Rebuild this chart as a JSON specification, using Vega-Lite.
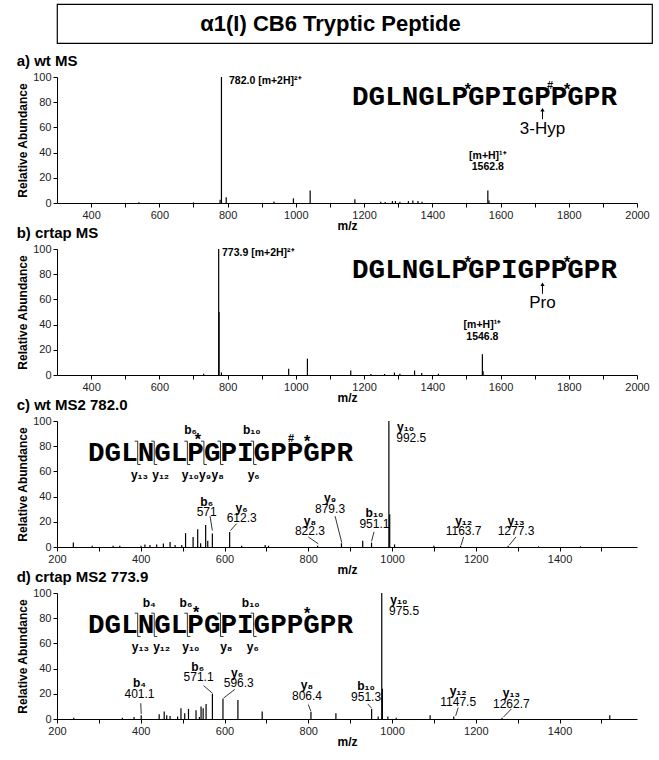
{
"$schema": "https://vega.github.io/schema/vega-lite/v6.json",
"padding": {"left": 16, "top": 3, "right": 0, "bottom": 0},
"datasets": {
"pk": [
{"p":"a","mz":540,"ab":0.6},{"p":"a","mz":700,"ab":0.5},{"p":"a","mz":778,"ab":2.5},{"p":"a","mz":782,"ab":100},{"p":"a","mz":796,"ab":4.5},{"p":"a","mz":936,"ab":1.2},{"p":"a","mz":993,"ab":3.7},{"p":"a","mz":1042,"ab":10},{"p":"a","mz":1173,"ab":3},{"p":"a","mz":1249,"ab":1},{"p":"a","mz":1262,"ab":0.8},{"p":"a","mz":1283,"ab":1.5},{"p":"a","mz":1292,"ab":1.5},{"p":"a","mz":1305,"ab":1},{"p":"a","mz":1330,"ab":1.5},{"p":"a","mz":1343,"ab":2},{"p":"a","mz":1358,"ab":1.5},{"p":"a","mz":1370,"ab":1},{"p":"a","mz":1562.8,"ab":10},{"p":"a","mz":1566,"ab":2},
{"p":"b","mz":730,"ab":1},{"p":"b","mz":773.9,"ab":100},{"p":"b","mz":775,"ab":50},{"p":"b","mz":782,"ab":2},{"p":"b","mz":979,"ab":5},{"p":"b","mz":1034,"ab":13},{"p":"b","mz":1161,"ab":3.5},{"p":"b","mz":1220,"ab":0.8},{"p":"b","mz":1260,"ab":0.8},{"p":"b","mz":1289,"ab":2},{"p":"b","mz":1305,"ab":1},{"p":"b","mz":1348,"ab":3.5},{"p":"b","mz":1369,"ab":1.5},{"p":"b","mz":1418,"ab":1},{"p":"b","mz":1546.8,"ab":16.5},{"p":"b","mz":1549,"ab":3},
{"p":"c","mz":239,"ab":3.5},{"p":"c","mz":284,"ab":1},{"p":"c","mz":334,"ab":1},{"p":"c","mz":350,"ab":1},{"p":"c","mz":400.6,"ab":1},{"p":"c","mz":410,"ab":2},{"p":"c","mz":422,"ab":1.5},{"p":"c","mz":438,"ab":2},{"p":"c","mz":454,"ab":2.7},{"p":"c","mz":470,"ab":4},{"p":"c","mz":482,"ab":1.5},{"p":"c","mz":498,"ab":1.5},{"p":"c","mz":507,"ab":11},{"p":"c","mz":525,"ab":8},{"p":"c","mz":536,"ab":14},{"p":"c","mz":543,"ab":3},{"p":"c","mz":555,"ab":17.4},{"p":"c","mz":560,"ab":5},{"p":"c","mz":571,"ab":10.7},{"p":"c","mz":612.3,"ab":12},{"p":"c","mz":641,"ab":1},{"p":"c","mz":697,"ab":1.5},{"p":"c","mz":705,"ab":1},{"p":"c","mz":822.3,"ab":1},{"p":"c","mz":879.3,"ab":3},{"p":"c","mz":930,"ab":5},{"p":"c","mz":951.1,"ab":3.5},{"p":"c","mz":992.5,"ab":100},{"p":"c","mz":994.5,"ab":26},{"p":"c","mz":1006,"ab":2},{"p":"c","mz":1100,"ab":1},{"p":"c","mz":1163.7,"ab":1},{"p":"c","mz":1277.3,"ab":1},{"p":"c","mz":1350,"ab":0.5},{"p":"c","mz":1450,"ab":0.5},
{"p":"d","mz":240,"ab":1},{"p":"d","mz":356,"ab":1},{"p":"d","mz":384,"ab":1.5},{"p":"d","mz":401.1,"ab":3},{"p":"d","mz":444,"ab":3.7},{"p":"d","mz":456,"ab":6},{"p":"d","mz":462,"ab":3},{"p":"d","mz":470,"ab":2.4},{"p":"d","mz":488,"ab":2},{"p":"d","mz":496,"ab":8.5},{"p":"d","mz":505,"ab":4.5},{"p":"d","mz":514,"ab":8},{"p":"d","mz":532,"ab":7},{"p":"d","mz":540,"ab":1.5},{"p":"d","mz":544,"ab":10},{"p":"d","mz":549,"ab":8.5},{"p":"d","mz":556,"ab":12},{"p":"d","mz":571.1,"ab":20},{"p":"d","mz":596.3,"ab":16},{"p":"d","mz":632,"ab":15},{"p":"d","mz":690,"ab":6},{"p":"d","mz":806.4,"ab":5.5},{"p":"d","mz":866,"ab":4.5},{"p":"d","mz":951.3,"ab":8},{"p":"d","mz":967,"ab":2},{"p":"d","mz":975.5,"ab":100},{"p":"d","mz":977,"ab":24},{"p":"d","mz":990,"ab":2},{"p":"d","mz":1010,"ab":1},{"p":"d","mz":1091,"ab":3},{"p":"d","mz":1147.5,"ab":2},{"p":"d","mz":1262.7,"ab":1},{"p":"d","mz":1520,"ab":3}
],
"ln": [
{"p":"a","mz":1723,"ab":66.5,"mz2":1723,"ab2":74},
{"p":"b","mz":1723,"ab":64.5,"mz2":1723,"ab2":72},
{"p":"c","mz":565.5,"ab":24.5,"mz2":571,"ab2":13},
{"p":"c","mz":629,"ab":18.6,"mz2":614,"ab2":13},
{"p":"c","mz":800,"ab":8,"mz2":824,"ab2":2.5},
{"p":"c","mz":864,"ab":24.5,"mz2":880,"ab2":3.5},
{"p":"c","mz":957,"ab":12,"mz2":951.1,"ab2":4.5},
{"p":"c","mz":1171,"ab":8,"mz2":1165,"ab2":1.5},
{"p":"c","mz":1296,"ab":8,"mz2":1280,"ab2":1.5},
{"p":"c","mz":392.7,"ab":65.5,"mz2":392.7,"ab2":84},{"p":"c","mz":385.5,"ab":84,"mz2":392.7,"ab2":84},{"p":"c","mz":392.7,"ab":65.5,"mz2":399.9,"ab2":65.5},
{"p":"c","mz":432.2,"ab":65.5,"mz2":432.2,"ab2":84},{"p":"c","mz":425,"ab":84,"mz2":432.2,"ab2":84},{"p":"c","mz":432.2,"ab":65.5,"mz2":439.4,"ab2":65.5},
{"p":"c","mz":511.3,"ab":65.5,"mz2":511.3,"ab2":84},{"p":"c","mz":504.1,"ab":84,"mz2":511.3,"ab2":84},{"p":"c","mz":511.3,"ab":65.5,"mz2":518.5,"ab2":65.5},
{"p":"c","mz":550.8,"ab":65.5,"mz2":550.8,"ab2":84},{"p":"c","mz":543.6,"ab":84,"mz2":550.8,"ab2":84},{"p":"c","mz":550.8,"ab":65.5,"mz2":558,"ab2":65.5},
{"p":"c","mz":590.4,"ab":65.5,"mz2":590.4,"ab2":84},{"p":"c","mz":583.2,"ab":84,"mz2":590.4,"ab2":84},{"p":"c","mz":590.4,"ab":65.5,"mz2":597.6,"ab2":65.5},
{"p":"c","mz":669.5,"ab":65.5,"mz2":669.5,"ab2":84},{"p":"c","mz":662.3,"ab":84,"mz2":669.5,"ab2":84},{"p":"c","mz":669.5,"ab":65.5,"mz2":676.7,"ab2":65.5},
{"p":"d","mz":400,"ab":12.5,"mz2":401.1,"ab2":4},
{"p":"d","mz":550,"ab":26.5,"mz2":571.1,"ab2":20.5},
{"p":"d","mz":624.5,"ab":23.5,"mz2":597.5,"ab2":16.5},
{"p":"d","mz":800,"ab":11.5,"mz2":806.4,"ab2":6},
{"p":"d","mz":942,"ab":12,"mz2":951.3,"ab2":8.5},
{"p":"d","mz":1158,"ab":9,"mz2":1152,"ab2":2.5},
{"p":"d","mz":1285,"ab":8,"mz2":1266,"ab2":1.5},
{"p":"d","mz":392.7,"ab":65.5,"mz2":392.7,"ab2":84},{"p":"d","mz":385.5,"ab":84,"mz2":392.7,"ab2":84},{"p":"d","mz":392.7,"ab":65.5,"mz2":399.9,"ab2":65.5},
{"p":"d","mz":432.2,"ab":65.5,"mz2":432.2,"ab2":84},{"p":"d","mz":425,"ab":84,"mz2":432.2,"ab2":84},{"p":"d","mz":432.2,"ab":65.5,"mz2":439.4,"ab2":65.5},
{"p":"d","mz":511.3,"ab":65.5,"mz2":511.3,"ab2":84},{"p":"d","mz":504.1,"ab":84,"mz2":511.3,"ab2":84},{"p":"d","mz":511.3,"ab":65.5,"mz2":518.5,"ab2":65.5},
{"p":"d","mz":590.4,"ab":65.5,"mz2":590.4,"ab2":84},{"p":"d","mz":583.2,"ab":84,"mz2":590.4,"ab2":84},{"p":"d","mz":590.4,"ab":65.5,"mz2":597.6,"ab2":65.5},
{"p":"d","mz":669.5,"ab":65.5,"mz2":669.5,"ab2":84},{"p":"d","mz":662.3,"ab":84,"mz2":669.5,"ab2":84},{"p":"d","mz":669.5,"ab":65.5,"mz2":676.7,"ab2":65.5}
],
"ah": [
{"p":"a","mz":1723,"ab":74},
{"p":"b","mz":1723,"ab":72}
],
"tx": [
{"p":"a","k":"bl","mz":804,"ab":96.8,"t":"782.0 [m+2H]²⁺"},
{"p":"a","k":"bc","mz":1562.8,"ab":37.3,"t":"[m+H]¹⁺"},
{"p":"a","k":"bc","mz":1562.8,"ab":28.6,"t":"1562.8"},
{"p":"a","k":"seq","mz":1553,"ab":84.1,"t":"DGLNGLPGPIGPPGPR"},
{"p":"a","k":"star","mz":1504.6,"ab":89.5,"t":"*"},
{"p":"a","k":"hash","mz":1745,"ab":92.5,"t":"#"},
{"p":"a","k":"star","mz":1795,"ab":89.5,"t":"*"},
{"p":"a","k":"big","mz":1723,"ab":58.7,"t":"3-Hyp"},
{"p":"b","k":"bl","mz":783.6,"ab":96.8,"t":"773.9 [m+2H]²⁺"},
{"p":"b","k":"bc","mz":1546.8,"ab":40,"t":"[m+H]¹⁺"},
{"p":"b","k":"bc","mz":1546.8,"ab":30.4,"t":"1546.8"},
{"p":"b","k":"seq","mz":1553,"ab":83.2,"t":"DGLNGLPGPIGPPGPR"},
{"p":"b","k":"star","mz":1504.6,"ab":89,"t":"*"},
{"p":"b","k":"star","mz":1795,"ab":89,"t":"*"},
{"p":"b","k":"big","mz":1723,"ab":56.8,"t":"Pro"},
{"p":"c","k":"seq","mz":590.4,"ab":74.4,"t":"DGLNGLPGPIGPPGPR"},
{"p":"c","k":"ion","mz":519,"ab":93,"t":"b₆"},
{"p":"c","k":"ion","mz":665,"ab":93,"t":"b₁₀"},
{"p":"c","k":"ion","mz":397,"ab":57.5,"t":"y₁₃"},
{"p":"c","k":"ion","mz":447.6,"ab":57.5,"t":"y₁₂"},
{"p":"c","k":"ion","mz":518.3,"ab":57.5,"t":"y₁₀"},
{"p":"c","k":"ion","mz":553.4,"ab":57.5,"t":"y₉"},
{"p":"c","k":"ion","mz":583.7,"ab":57.5,"t":"y₈"},
{"p":"c","k":"ion","mz":669.7,"ab":57.5,"t":"y₆"},
{"p":"c","k":"ion","mz":557.5,"ab":36,"t":"b₆"},
{"p":"c","k":"num","mz":557.5,"ab":28,"t":"571"},
{"p":"c","k":"ion","mz":641,"ab":30.6,"t":"y₆"},
{"p":"c","k":"num","mz":641,"ab":23,"t":"612.3"},
{"p":"c","k":"ion","mz":804,"ab":20.6,"t":"y₈"},
{"p":"c","k":"num","mz":804,"ab":12.6,"t":"822.3"},
{"p":"c","k":"ion","mz":852,"ab":38.6,"t":"y₉"},
{"p":"c","k":"num","mz":852,"ab":29.8,"t":"879.3"},
{"p":"c","k":"ion","mz":958,"ab":27,"t":"b₁₀"},
{"p":"c","k":"num","mz":958,"ab":18.5,"t":"951.1"},
{"p":"c","k":"ion","mz":1171,"ab":20.8,"t":"y₁₂"},
{"p":"c","k":"num","mz":1171,"ab":12.5,"t":"1163.7"},
{"p":"c","k":"ion","mz":1296,"ab":20.8,"t":"y₁₃"},
{"p":"c","k":"num","mz":1296,"ab":12.5,"t":"1277.3"},
{"p":"c","k":"ionl","mz":1012,"ab":95.5,"t":"y₁₀"},
{"p":"c","k":"numl","mz":1010,"ab":86.5,"t":"992.5"},
{"p":"c","k":"star","mz":536.6,"ab":85,"t":"*"},
{"p":"c","k":"hash","mz":758.8,"ab":86,"t":"#"},
{"p":"c","k":"star","mz":797,"ab":83.5,"t":"*"},
{"p":"d","k":"seq","mz":590.4,"ab":74.4,"t":"DGLNGLPGPIGPPGPR"},
{"p":"d","k":"ion","mz":420.4,"ab":92,"t":"b₄"},
{"p":"d","k":"ion","mz":508,"ab":92,"t":"b₆"},
{"p":"d","k":"ion","mz":662.5,"ab":92,"t":"b₁₀"},
{"p":"d","k":"ion","mz":399,"ab":57.5,"t":"y₁₃"},
{"p":"d","k":"ion","mz":449.8,"ab":57.5,"t":"y₁₂"},
{"p":"d","k":"ion","mz":519.5,"ab":57.5,"t":"y₁₀"},
{"p":"d","k":"ion","mz":604.3,"ab":57.5,"t":"y₈"},
{"p":"d","k":"ion","mz":667.8,"ab":57.5,"t":"y₆"},
{"p":"d","k":"ion","mz":397,"ab":28.3,"t":"b₄"},
{"p":"d","k":"num","mz":397,"ab":19.5,"t":"401.1"},
{"p":"d","k":"ion","mz":536,"ab":41.5,"t":"b₆"},
{"p":"d","k":"num","mz":538,"ab":33,"t":"571.1"},
{"p":"d","k":"ion","mz":630,"ab":36.7,"t":"y₆"},
{"p":"d","k":"num","mz":634,"ab":28.3,"t":"596.3"},
{"p":"d","k":"ion","mz":797,"ab":27,"t":"y₈"},
{"p":"d","k":"num","mz":797,"ab":18.5,"t":"806.4"},
{"p":"d","k":"ion","mz":938,"ab":26.2,"t":"b₁₀"},
{"p":"d","k":"num","mz":938,"ab":17.8,"t":"951.3"},
{"p":"d","k":"ion","mz":1158,"ab":22.2,"t":"y₁₂"},
{"p":"d","k":"num","mz":1158,"ab":13.8,"t":"1147.5"},
{"p":"d","k":"ion","mz":1285,"ab":20.6,"t":"y₁₃"},
{"p":"d","k":"num","mz":1285,"ab":12.3,"t":"1262.7"},
{"p":"d","k":"ionl","mz":996,"ab":94.4,"t":"y₁₀"},
{"p":"d","k":"numl","mz":993,"ab":85.7,"t":"975.5"},
{"p":"d","k":"star","mz":532,"ab":84.5,"t":"*"},
{"p":"d","k":"star","mz":797,"ab":83.5,"t":"*"}
]
},
"vconcat": [
{
"width": 595, "height": 39,
"view": {"stroke": "black", "strokeWidth": 1.2},
"data": {"values": [{"t": "α1(I) CB6 Tryptic Peptide"}]},
"mark": {"type": "text", "fontSize": 22, "fontWeight": "bold", "font": "Liberation Sans", "color": "black", "dx": -24},
"encoding": {"text": {"field": "t"}, "size": {"value": 22}}
},
{
"spacing": -5,
"vconcat": [
{
"width": 580, "height": 126,
"title": {"text": "a) wt MS", "anchor": "start", "frame": "bounds"},
"encoding": {
"x": {"field": "mz", "type": "quantitative", "scale": {"domain": [300, 2000], "nice": false, "zero": false}, "axis": {"values": [400,500,600,700,800,900,1000,1100,1200,1300,1400,1500,1600,1700,1800,1900,2000], "labelExpr": "datum.value % 200 === 0 ? datum.label : ''", "format": "d", "title": "m/z"}},
"y": {"field": "ab", "type": "quantitative", "scale": {"domain": [0, 100], "nice": false}, "axis": {"values": [0,20,40,60,80,100], "title": "Relative Abundance"}}
},
"layer": [
{"data": {"name": "pk"}, "transform": [{"filter": "datum.p == 'a'"}], "mark": {"type": "rule", "color": "black", "strokeWidth": 1.2}, "encoding": {"y2": {"datum": 0}}},
{"data": {"name": "ln"}, "transform": [{"filter": "datum.p == 'a'"}], "mark": {"type": "rule", "color": "black", "strokeWidth": 1}, "encoding": {"x2": {"field": "mz2"}, "y2": {"field": "ab2"}}},
{"data": {"name": "ah"}, "transform": [{"filter": "datum.p == 'a'"}], "mark": {"type": "point", "shape": "triangle-up", "filled": true, "color": "black", "size": 18, "opacity": 1}, "encoding": {}},
{"data": {"name": "tx"}, "transform": [{"filter": "datum.p == 'a' && datum.k == 'seq'"}], "mark": {"type": "text", "font": "Liberation Mono", "fontSize": 27.6, "fontWeight": "bold", "color": "black"}, "encoding": {"text": {"field": "t"}}},
{"data": {"name": "tx"}, "transform": [{"filter": "datum.p == 'a' && datum.k == 'star'"}], "mark": {"type": "text", "fontSize": 16, "fontWeight": "bold", "color": "black"}, "encoding": {"text": {"field": "t"}}},
{"data": {"name": "tx"}, "transform": [{"filter": "datum.p == 'a' && datum.k == 'hash'"}], "mark": {"type": "text", "fontSize": 11, "fontWeight": "bold", "color": "black"}, "encoding": {"text": {"field": "t"}}},
{"data": {"name": "tx"}, "transform": [{"filter": "datum.p == 'a' && datum.k == 'bl'"}], "mark": {"type": "text", "fontSize": 10.5, "fontWeight": "bold", "align": "left", "color": "black"}, "encoding": {"text": {"field": "t"}}},
{"data": {"name": "tx"}, "transform": [{"filter": "datum.p == 'a' && datum.k == 'bc'"}], "mark": {"type": "text", "fontSize": 10.5, "fontWeight": "bold", "color": "black"}, "encoding": {"text": {"field": "t"}}},
{"data": {"name": "tx"}, "transform": [{"filter": "datum.p == 'a' && datum.k == 'big'"}], "mark": {"type": "text", "fontSize": 17, "color": "black"}, "encoding": {"text": {"field": "t"}}}
]
},
{
"width": 580, "height": 126,
"title": {"text": "b) crtap MS", "anchor": "start", "frame": "bounds"},
"encoding": {
"x": {"field": "mz", "type": "quantitative", "scale": {"domain": [300, 2000], "nice": false, "zero": false}, "axis": {"values": [400,500,600,700,800,900,1000,1100,1200,1300,1400,1500,1600,1700,1800,1900,2000], "labelExpr": "datum.value % 200 === 0 ? datum.label : ''", "format": "d", "title": "m/z"}},
"y": {"field": "ab", "type": "quantitative", "scale": {"domain": [0, 100], "nice": false}, "axis": {"values": [0,20,40,60,80,100], "title": "Relative Abundance"}}
},
"layer": [
{"data": {"name": "pk"}, "transform": [{"filter": "datum.p == 'b'"}], "mark": {"type": "rule", "color": "black", "strokeWidth": 1.2}, "encoding": {"y2": {"datum": 0}}},
{"data": {"name": "ln"}, "transform": [{"filter": "datum.p == 'b'"}], "mark": {"type": "rule", "color": "black", "strokeWidth": 1}, "encoding": {"x2": {"field": "mz2"}, "y2": {"field": "ab2"}}},
{"data": {"name": "ah"}, "transform": [{"filter": "datum.p == 'b'"}], "mark": {"type": "point", "shape": "triangle-up", "filled": true, "color": "black", "size": 18, "opacity": 1}, "encoding": {}},
{"data": {"name": "tx"}, "transform": [{"filter": "datum.p == 'b' && datum.k == 'seq'"}], "mark": {"type": "text", "font": "Liberation Mono", "fontSize": 27.6, "fontWeight": "bold", "color": "black"}, "encoding": {"text": {"field": "t"}}},
{"data": {"name": "tx"}, "transform": [{"filter": "datum.p == 'b' && datum.k == 'star'"}], "mark": {"type": "text", "fontSize": 16, "fontWeight": "bold", "color": "black"}, "encoding": {"text": {"field": "t"}}},
{"data": {"name": "tx"}, "transform": [{"filter": "datum.p == 'b' && datum.k == 'bl'"}], "mark": {"type": "text", "fontSize": 10.5, "fontWeight": "bold", "align": "left", "color": "black"}, "encoding": {"text": {"field": "t"}}},
{"data": {"name": "tx"}, "transform": [{"filter": "datum.p == 'b' && datum.k == 'bc'"}], "mark": {"type": "text", "fontSize": 10.5, "fontWeight": "bold", "color": "black"}, "encoding": {"text": {"field": "t"}}},
{"data": {"name": "tx"}, "transform": [{"filter": "datum.p == 'b' && datum.k == 'big'"}], "mark": {"type": "text", "fontSize": 17, "color": "black"}, "encoding": {"text": {"field": "t"}}}
]
},
{
"width": 580, "height": 126,
"title": {"text": "c) wt MS2 782.0", "anchor": "start", "frame": "bounds"},
"encoding": {
"x": {"field": "mz", "type": "quantitative", "scale": {"domain": [200, 1585], "nice": false, "zero": false}, "axis": {"values": [200,300,400,500,600,700,800,900,1000,1100,1200,1300,1400,1500], "labelExpr": "datum.value % 200 === 0 ? datum.label : ''", "format": "d", "title": "m/z"}},
"y": {"field": "ab", "type": "quantitative", "scale": {"domain": [0, 100], "nice": false}, "axis": {"values": [0,20,40,60,80,100], "title": "Relative Abundance"}}
},
"layer": [
{"data": {"name": "pk"}, "transform": [{"filter": "datum.p == 'c'"}], "mark": {"type": "rule", "color": "black", "strokeWidth": 1.2}, "encoding": {"y2": {"datum": 0}}},
{"data": {"name": "ln"}, "transform": [{"filter": "datum.p == 'c'"}], "mark": {"type": "rule", "color": "black", "strokeWidth": 0.8}, "encoding": {"x2": {"field": "mz2"}, "y2": {"field": "ab2"}}},
{"data": {"name": "tx"}, "transform": [{"filter": "datum.p == 'c' && datum.k == 'seq'"}], "mark": {"type": "text", "font": "Liberation Mono", "fontSize": 27.6, "fontWeight": "bold", "color": "black"}, "encoding": {"text": {"field": "t"}}},
{"data": {"name": "tx"}, "transform": [{"filter": "datum.p == 'c' && datum.k == 'ion'"}], "mark": {"type": "text", "fontSize": 12, "fontWeight": "bold", "color": "black"}, "encoding": {"text": {"field": "t"}}},
{"data": {"name": "tx"}, "transform": [{"filter": "datum.p == 'c' && datum.k == 'num'"}], "mark": {"type": "text", "fontSize": 12, "color": "black"}, "encoding": {"text": {"field": "t"}}},
{"data": {"name": "tx"}, "transform": [{"filter": "datum.p == 'c' && datum.k == 'ionl'"}], "mark": {"type": "text", "fontSize": 12, "fontWeight": "bold", "align": "left", "color": "black"}, "encoding": {"text": {"field": "t"}}},
{"data": {"name": "tx"}, "transform": [{"filter": "datum.p == 'c' && datum.k == 'numl'"}], "mark": {"type": "text", "fontSize": 12, "align": "left", "color": "black"}, "encoding": {"text": {"field": "t"}}},
{"data": {"name": "tx"}, "transform": [{"filter": "datum.p == 'c' && datum.k == 'star'"}], "mark": {"type": "text", "fontSize": 16, "fontWeight": "bold", "color": "black"}, "encoding": {"text": {"field": "t"}}},
{"data": {"name": "tx"}, "transform": [{"filter": "datum.p == 'c' && datum.k == 'hash'"}], "mark": {"type": "text", "fontSize": 11, "fontWeight": "bold", "color": "black"}, "encoding": {"text": {"field": "t"}}}
]
},
{
"width": 580, "height": 126,
"title": {"text": "d) crtap MS2 773.9", "anchor": "start", "frame": "bounds"},
"encoding": {
"x": {"field": "mz", "type": "quantitative", "scale": {"domain": [200, 1585], "nice": false, "zero": false}, "axis": {"values": [200,300,400,500,600,700,800,900,1000,1100,1200,1300,1400,1500], "labelExpr": "datum.value % 200 === 0 ? datum.label : ''", "format": "d", "title": "m/z"}},
"y": {"field": "ab", "type": "quantitative", "scale": {"domain": [0, 100], "nice": false}, "axis": {"values": [0,20,40,60,80,100], "title": "Relative Abundance"}}
},
"layer": [
{"data": {"name": "pk"}, "transform": [{"filter": "datum.p == 'd'"}], "mark": {"type": "rule", "color": "black", "strokeWidth": 1.2}, "encoding": {"y2": {"datum": 0}}},
{"data": {"name": "ln"}, "transform": [{"filter": "datum.p == 'd'"}], "mark": {"type": "rule", "color": "black", "strokeWidth": 0.8}, "encoding": {"x2": {"field": "mz2"}, "y2": {"field": "ab2"}}},
{"data": {"name": "tx"}, "transform": [{"filter": "datum.p == 'd' && datum.k == 'seq'"}], "mark": {"type": "text", "font": "Liberation Mono", "fontSize": 27.6, "fontWeight": "bold", "color": "black"}, "encoding": {"text": {"field": "t"}}},
{"data": {"name": "tx"}, "transform": [{"filter": "datum.p == 'd' && datum.k == 'ion'"}], "mark": {"type": "text", "fontSize": 12, "fontWeight": "bold", "color": "black"}, "encoding": {"text": {"field": "t"}}},
{"data": {"name": "tx"}, "transform": [{"filter": "datum.p == 'd' && datum.k == 'num'"}], "mark": {"type": "text", "fontSize": 12, "color": "black"}, "encoding": {"text": {"field": "t"}}},
{"data": {"name": "tx"}, "transform": [{"filter": "datum.p == 'd' && datum.k == 'ionl'"}], "mark": {"type": "text", "fontSize": 12, "fontWeight": "bold", "align": "left", "color": "black"}, "encoding": {"text": {"field": "t"}}},
{"data": {"name": "tx"}, "transform": [{"filter": "datum.p == 'd' && datum.k == 'numl'"}], "mark": {"type": "text", "fontSize": 12, "align": "left", "color": "black"}, "encoding": {"text": {"field": "t"}}},
{"data": {"name": "tx"}, "transform": [{"filter": "datum.p == 'd' && datum.k == 'star'"}], "mark": {"type": "text", "fontSize": 16, "fontWeight": "bold", "color": "black"}, "encoding": {"text": {"field": "t"}}}
]
}
]
}
],
"spacing": 10,
"config": {
"view": {"stroke": null},
"font": "Liberation Sans",
"text": {"font": "Liberation Sans"},
"title": {"fontSize": 15, "fontWeight": "bold", "color": "black", "font": "Liberation Sans", "offset": 2},
"axis": {"grid": false, "domainColor": "black", "tickColor": "black", "labelColor": "#222", "titleColor": "black", "labelFont": "Liberation Sans", "titleFont": "Liberation Sans", "labelFontSize": 11, "titleFontSize": 12, "titleFontWeight": "bold", "tickSize": 4, "labelPadding": 2, "labelOverlap": false, "labelFlush": false},
"axisX": {"titlePadding": 0},
"axisY": {"titlePadding": 3}
}
}
